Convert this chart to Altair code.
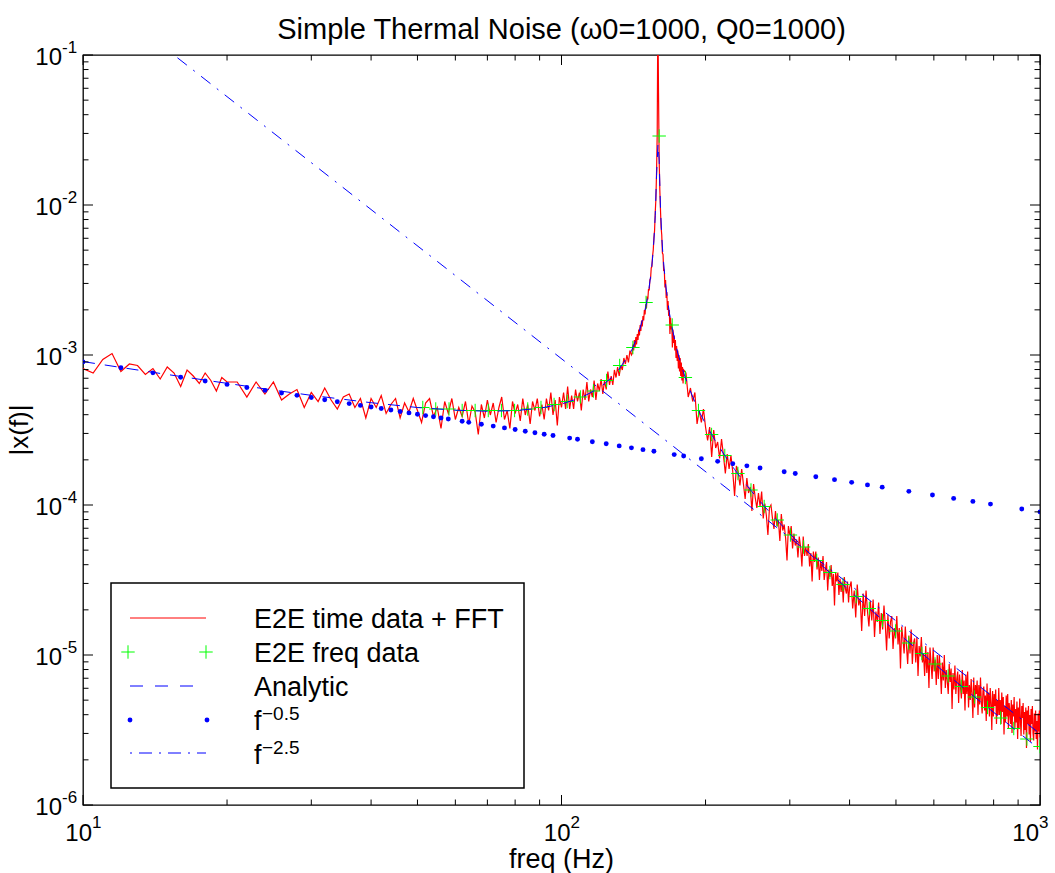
import numpy as np
import pandas as pd
import altair as alt

FONT = "Liberation Sans"
TITLE = "Simple Thermal Noise (\u03c90=1000, Q0=1000)"
X_LABEL = "freq (Hz)"
Y_LABEL = "|x(f)|"
legend_labels = ["E2E time data + FFT", "E2E freq data", "Analytic", "f", "f"]
legend_exponents = ["", "", "", "\u22120.5", "\u22122.5"]

# axis ticks
x_major = [10, 100, 1000]
x_major_exp = ["1", "2", "3"]
x_minor = [20, 30, 40, 50, 60, 70, 80, 90, 200, 300, 400, 500, 600, 700, 800, 900]
y_major = [1e-6, 1e-5, 1e-4, 1e-3, 1e-2, 1e-1]
y_major_exp = ["-6", "-5", "-4", "-3", "-2", "-1"]
y_minor = [k * 10.0 ** e for e in range(-6, -1) for k in range(2, 10)]

# ---- E2E time data + FFT (red): frequency segments (start, stop, step) and log10 |x(f)|
red_segments = [(10.0, 20.0, 0.5), (21.0, 140.0, 1.0), (140.5, 180.0, 0.5), (182.0, 400.0, 2.0), (403.0, 1000.0, 3.0)]
red_log_s1 = [-3.09, -3.12, -3.03, -2.99, -3.11, -3.06, -3.07, -3.13, -3.09, -3.16, -3.08, -3.12, -3.21, -3.10,
              -3.14, -3.19, -3.12, -3.17, -3.24, -3.15, -3.18]
red_log_s2 = [-3.18, -3.28, -3.18, -3.26, -3.18, -3.30, -3.26, -3.23, -3.35, -3.25,
              -3.31, -3.22, -3.30, -3.36, -3.28, -3.26, -3.35, -3.29, -3.42, -3.29,
              -3.35, -3.27, -3.39, -3.33, -3.29, -3.42, -3.32, -3.38, -3.29, -3.37,
              -3.45, -3.32, -3.29, -3.41, -3.35, -3.49, -3.31, -3.39, -3.29, -3.43,
              -3.35, -3.41, -3.31, -3.46, -3.34, -3.38, -3.53, -3.33, -3.42, -3.30,
              -3.40, -3.32, -3.45, -3.35, -3.28, -3.43, -3.37, -3.49, -3.31, -3.39,
              -3.33, -3.44, -3.29, -3.40, -3.33, -3.46, -3.31, -3.37, -3.29, -3.41,
              -3.33, -3.43, -3.29, -3.37, -3.25, -3.40, -3.30, -3.47, -3.28, -3.35,
              -3.25, -3.36, -3.21, -3.36, -3.27, -3.36, -3.23, -3.31, -3.25, -3.37,
              -3.23, -3.30, -3.18, -3.31, -3.23, -3.28, -3.17, -3.30, -3.19, -3.24,
              -3.16, -3.26, -3.17, -3.23, -3.11, -3.20, -3.14, -3.20, -3.10, -3.15,
              -3.08, -3.14, -3.07, -3.10, -3.02, -3.06, -3.00, -3.05, -2.97, -3.00]
red_log_s3 = [-2.99, -2.93, -2.97, -2.90, -2.95, -2.88, -2.93, -2.86, -2.90, -2.83,
              -2.87, -2.80, -2.84, -2.77, -2.81, -2.74, -2.77, -2.70, -2.73, -2.66,
              -2.69, -2.61, -2.63, -2.56, -2.57, -2.50, -2.49, -2.42, -2.41, -2.34,
              -2.30, -2.22, -2.17, -2.05, -1.96, -1.78, -1.52, -0.70, -1.25, -1.70,
              -1.90, -2.03, -2.15, -2.20, -2.32, -2.33, -2.44, -2.43, -2.55, -2.50,
              -2.62, -2.58, -2.70, -2.64, -2.74, -2.70, -2.86, -2.75, -2.83, -2.79,
              -2.95, -2.83, -2.92, -2.87, -2.97, -2.90, -3.02, -2.94, -3.04, -2.97,
              -3.09, -3.00, -3.11, -3.02, -3.14, -3.05, -3.17, -3.08, -3.19, -3.10]
red_log_s4 = [-3.12, -3.28, -3.22, -3.31, -3.25, -3.46, -3.37, -3.45, -3.36, -3.48,
              -3.57, -3.48, -3.68, -3.50, -3.62, -3.58, -3.69, -3.56, -3.67, -3.79,
              -3.66, -3.76, -3.67, -3.78, -3.94, -3.74, -3.78, -3.87, -3.76, -3.86,
              -3.96, -3.82, -3.92, -3.88, -4.04, -3.86, -3.95, -4.02, -3.92, -4.01,
              -3.91, -4.09, -3.99, -4.07, -4.20, -4.02, -4.00, -4.09, -4.16, -4.04,
              -4.14, -4.10, -4.24, -4.06, -4.17, -4.13, -4.22, -4.37, -4.14, -4.20,
              -4.14, -4.29, -4.19, -4.27, -4.23, -4.35, -4.21, -4.28, -4.41, -4.21,
              -4.34, -4.28, -4.34, -4.26, -4.41, -4.32, -4.51, -4.31, -4.38, -4.31,
              -4.43, -4.35, -4.50, -4.37, -4.44, -4.34, -4.50, -4.43, -4.38, -4.57,
              -4.43, -4.48, -4.40, -4.54, -4.46, -4.67, -4.45, -4.51, -4.45, -4.60,
              -4.49, -4.58, -4.51, -4.65, -4.48, -4.56, -4.59, -4.51, -4.65, -4.55]
red_log_s5 = [-4.51, -4.69, -4.57, -4.75, -4.53, -4.67, -4.62, -4.84, -4.59, -4.74, -4.57, -4.71, -4.81, -4.64, -4.77, -4.63, -4.88, -4.71, -4.78, -4.65,
              -4.86, -4.72, -4.83, -4.67, -4.80, -4.97, -4.73, -4.89, -4.78, -4.74, -4.96, -4.82, -4.89, -4.74, -4.93, -4.82, -5.09, -4.81, -4.89, -4.99,
              -4.81, -4.94, -5.06, -4.87, -4.99, -4.83, -5.06, -4.92, -4.89, -5.05, -4.88, -5.14, -4.94, -5.01, -4.88, -5.05, -4.99, -5.14, -4.94, -5.12,
              -4.98, -5.22, -4.95, -5.06, -5.16, -4.95, -5.11, -5.03, -5.20, -5.00, -5.16, -5.00, -5.10, -5.26, -5.05, -5.17, -5.00, -5.22, -5.10, -5.17,
              -5.26, -5.06, -5.18, -5.09, -5.36, -5.12, -5.23, -5.07, -5.26, -5.16, -5.11, -5.32, -5.13, -5.21, -5.29, -5.10, -5.26, -5.17, -5.37, -5.13,
              -5.26, -5.11, -5.35, -5.20, -5.30, -5.16, -5.26, -5.42, -5.15, -5.35, -5.20, -5.26, -5.17, -5.40, -5.20, -5.33, -5.15, -5.31, -5.39, -5.24,
              -5.21, -5.37, -5.27, -5.44, -5.19, -5.35, -5.25, -5.41, -5.22, -5.32, -5.50, -5.24, -5.41, -5.26, -5.34, -5.23, -5.46, -5.30, -5.40, -5.22,
              -5.40, -5.30, -5.46, -5.25, -5.38, -5.28, -5.53, -5.34, -5.45, -5.27, -5.41, -5.26, -5.49, -5.32, -5.38, -5.46, -5.30, -5.52, -5.33, -5.41,
              -5.28, -5.49, -5.36, -5.45, -5.31, -5.56, -5.35, -5.49, -5.29, -5.43, -5.54, -5.34, -5.42, -5.32, -5.53, -5.38, -5.50, -5.35, -5.62, -5.37,
              -5.46, -5.34, -5.53, -5.40, -5.58, -5.36, -5.46, -5.34, -5.52, -5.57, -5.39, -5.51, -5.37, -5.56, -5.44, -5.63, -5.39, -5.51, -5.37, -5.55]
red_logs = [red_log_s1, red_log_s2, red_log_s3, red_log_s4, red_log_s5]

# ---- E2E freq data (green +)
green_freq = [51.3, 54.6, 58.2, 62.0, 66.0, 70.3, 74.9, 79.8, 85.0, 90.6, 96.5, 102.8, 109.5, 116.6, 124.2, 132.3,
              141.0, 150.2, 160.0, 170.4, 181.5, 193.3, 205.9, 219.4, 233.7, 248.9, 265.2, 282.5, 300.9, 320.6,
              341.5, 363.8, 387.5, 412.8, 439.8, 468.5, 499.1, 531.6, 566.3, 603.4, 642.8, 684.7, 729.3, 776.9,
              827.5, 881.4, 938.8, 1000.0]
green_log = [-3.35, -3.36, -3.36, -3.37, -3.37, -3.37, -3.37, -3.37, -3.36, -3.35, -3.33, -3.31, -3.28, -3.24, -3.17, -3.07,
             -2.95, -2.65, -1.54, -2.80, -3.15, -3.37, -3.53, -3.67, -3.79, -3.90, -4.01, -4.10, -4.20, -4.28,
             -4.37, -4.45, -4.53, -4.61, -4.69, -4.77, -4.84, -4.92, -4.99, -5.06, -5.14, -5.21, -5.28, -5.35,
             -5.42, -5.49, -5.56, -5.61]

# ---- Analytic (blue dashed)
analytic_freq = [10, 12, 15, 20, 25, 30, 40, 50, 60, 70,
                 80, 90, 100, 110, 120, 130, 140, 145, 150, 152,
                 154, 155, 156, 157, 158, 159.1, 160, 161, 162, 163,
                 165, 168, 170, 175, 180, 185, 190, 195, 200, 210,
                 220, 230, 240, 250, 260, 280, 300, 320, 350, 400,
                 450, 500, 550, 600, 650, 700, 750, 800, 850, 900,
                 950, 1000]
analytic_log = [-3.044, -3.083, -3.130, -3.189, -3.234, -3.269, -3.318, -3.350, -3.368, -3.375,
                -3.371, -3.355, -3.327, -3.284, -3.220, -3.125, -2.973, -2.856, -2.682, -2.580,
                -2.443, -2.353, -2.235, -2.071, -1.803, -1.590, -1.700, -2.018, -2.209, -2.342,
                -2.528, -2.716, -2.810, -2.987, -3.119, -3.225, -3.313, -3.391, -3.459, -3.577,
                -3.676, -3.763, -3.841, -3.911, -3.976, -4.091, -4.191, -4.282, -4.402, -4.572,
                -4.717, -4.843, -4.955, -5.056, -5.148, -5.232, -5.310, -5.382, -5.450, -5.514,
                -5.574, -5.631]

# ---- f^-0.5 (blue dots)
dots_freq = [10, 12, 14, 16, 18, 20, 22, 24, 26, 28, 30, 32, 34, 36, 38, 40, 42, 44, 46, 48, 50, 52, 54, 56, 58,
             62, 64, 68, 72, 76, 80, 84, 88, 92, 96, 104, 108, 116, 124, 132, 140, 148, 156, 172, 180, 196, 212,
             228, 244, 260, 292, 308, 340, 372, 404, 436, 468, 532, 596, 660, 724, 788, 916, 1000]
dots_log = [-3.046, -3.085, -3.119, -3.148, -3.173, -3.196, -3.217, -3.236, -3.253, -3.269, -3.284, -3.298, -3.312,
            -3.324, -3.336, -3.347, -3.357, -3.367, -3.377, -3.386, -3.395, -3.404, -3.412, -3.420, -3.427,
            -3.442, -3.449, -3.462, -3.474, -3.486, -3.497, -3.508, -3.518, -3.528, -3.537, -3.554, -3.562,
            -3.578, -3.592, -3.606, -3.619, -3.631, -3.642, -3.664, -3.673, -3.692, -3.709, -3.725, -3.739,
            -3.753, -3.778, -3.790, -3.812, -3.831, -3.849, -3.866, -3.881, -3.909, -3.933, -3.956, -3.976,
            -3.994, -4.027, -4.046]

# ---- f^-2.5 (blue dash-dot), end points
slope_freq = [10, 1000]
slope_log = [-0.525, -5.525]

# ---------------- build tables ----------------
rf, rv = [], []
for (a, b, s), vals in zip(red_segments, red_logs):
    fr = np.arange(a, b + s / 2, s)
    n = min(len(fr), len(vals))
    rf.extend(fr[:n].tolist())
    rv.extend(vals[:n])
red_df = pd.DataFrame({"f": rf, "a": 10.0 ** np.array(rv)})
green_df = pd.DataFrame({"f": green_freq, "a": 10.0 ** np.array(green_log)})
analytic_df = pd.DataFrame({"f": analytic_freq, "a": 10.0 ** np.array(analytic_log)})
dots_df = pd.DataFrame({"f": dots_freq, "a": 10.0 ** np.array(dots_log)})
slope_df = pd.DataFrame({"f": slope_freq, "a": 10.0 ** np.array(slope_log)})

W, H = 957, 750
xs = alt.Scale(type="log", domain=[10, 1000], nice=False)
ys = alt.Scale(type="log", domain=[1e-6, 1e-1], nice=False)


def X(field):
    return alt.X(f"{field}:Q", scale=xs, axis=None)


def Y(field):
    return alt.Y(f"{field}:Q", scale=ys, axis=None)


BLUE = "#0000ff"
RED = "#ff0000"
GREEN = "#00ff00"
PLUS = "M-1,0L1,0M0,-1L0,1"

layers = []
layers.append(alt.Chart(red_df).mark_line(color=RED, strokeWidth=1.2, clip=True).encode(x=X("f"), y=Y("a")))
layers.append(alt.Chart(green_df).mark_point(shape=PLUS, size=180, color=GREEN, strokeWidth=1, filled=False,
                                             opacity=1, clip=True).encode(x=X("f"), y=Y("a")))
layers.append(alt.Chart(analytic_df).mark_line(color=BLUE, strokeWidth=1, strokeDash=[12, 10], clip=True)
              .encode(x=X("f"), y=Y("a")))
layers.append(alt.Chart(dots_df).mark_circle(color=BLUE, size=24, opacity=1, clip=True).encode(x=X("f"), y=Y("a")))
layers.append(alt.Chart(slope_df).mark_line(color=BLUE, strokeWidth=1, strokeDash=[12, 8, 2, 8], clip=True)
              .encode(x=X("f"), y=Y("a")))

# ticks (inside, on all four sides)
xmaj_df = pd.DataFrame({"v": x_major, "base": ["10"] * len(x_major), "exp": x_major_exp})
xmin_df = pd.DataFrame({"v": x_minor})
ymaj_df = pd.DataFrame({"v": y_major, "base": ["10"] * len(y_major), "exp": y_major_exp})
ymin_df = pd.DataFrame({"v": y_minor})
for df, ln in [(xmaj_df, 10), (xmin_df, 5.5)]:
    layers.append(alt.Chart(df).mark_rule(color="black", strokeWidth=1)
                  .encode(x=X("v"), y=alt.value(H), y2=alt.value(H - ln)))
    layers.append(alt.Chart(df).mark_rule(color="black", strokeWidth=1)
                  .encode(x=X("v"), y=alt.value(0), y2=alt.value(ln)))
for df, ln in [(ymaj_df, 10), (ymin_df, 5.5)]:
    layers.append(alt.Chart(df).mark_rule(color="black", strokeWidth=1)
                  .encode(y=Y("v"), x=alt.value(0), x2=alt.value(ln)))
    layers.append(alt.Chart(df).mark_rule(color="black", strokeWidth=1)
                  .encode(y=Y("v"), x=alt.value(W), x2=alt.value(W - ln)))

# tick labels
TF, EF = 24, 17
xlab_inner = xmaj_df.iloc[:-1]
xlab_last = xmaj_df.iloc[-1:]
for df, off in [(xlab_inner, 9), (xlab_last, -1)]:
    layers.append(alt.Chart(df).mark_text(align="right", baseline="alphabetic", dx=off, font=FONT, fontSize=TF)
                  .encode(x=X("v"), y=alt.value(H + 36), text="base:N"))
    layers.append(alt.Chart(df).mark_text(align="left", baseline="alphabetic", dx=off, font=FONT, fontSize=EF)
                  .encode(x=X("v"), y=alt.value(H + 23), text="exp:N"))
layers.append(alt.Chart(ymaj_df).mark_text(align="right", baseline="alphabetic", dx=-21, dy=10, font=FONT, fontSize=TF)
              .encode(y=Y("v"), x=alt.value(0), text="base:N"))
layers.append(alt.Chart(ymaj_df).mark_text(align="left", baseline="alphabetic", dx=-21, dy=-2, font=FONT, fontSize=EF)
              .encode(y=Y("v"), x=alt.value(0), text="exp:N"))

one = pd.DataFrame({"k": [0]})
# title and axis titles
layers.append(alt.Chart(one).mark_text(align="center", baseline="middle", font=FONT, fontSize=29)
              .encode(x=alt.value(W / 2), y=alt.value(-25), text=alt.value(TITLE)))
layers.append(alt.Chart(one).mark_text(align="center", baseline="middle", font=FONT, fontSize=27)
              .encode(x=alt.value(W / 2), y=alt.value(H + 55), text=alt.value(X_LABEL)))
layers.append(alt.Chart(one).mark_text(align="center", baseline="middle", font=FONT, fontSize=26, angle=270)
              .encode(x=alt.value(-63), y=alt.value(375), text=alt.value(Y_LABEL)))

# legend
LX1, LX2, LY1, LY2 = 28, 441, 528, 733
layers.append(alt.Chart(one).mark_rect(fill="white", stroke="black", strokeWidth=1.5)
              .encode(x=alt.value(LX1), x2=alt.value(LX2), y=alt.value(LY1), y2=alt.value(LY2)))
sym_y = [563, 597, 631, 665, 698]
txt_y = [573, 607, 641, 675, 709]
layers.append(alt.Chart(one).mark_rule(color=RED, strokeWidth=1)
              .encode(x=alt.value(47), x2=alt.value(123), y=alt.value(sym_y[0])))
for gx in (45, 123):
    layers.append(alt.Chart(one).mark_point(shape=PLUS, size=180, color=GREEN, strokeWidth=1, filled=False, opacity=1)
                  .encode(x=alt.value(gx), y=alt.value(sym_y[1])))
layers.append(alt.Chart(one).mark_rule(color=BLUE, strokeWidth=1, strokeDash=[13, 12])
              .encode(x=alt.value(47), x2=alt.value(111), y=alt.value(sym_y[2])))
for dx_ in (47, 124):
    layers.append(alt.Chart(one).mark_circle(color=BLUE, size=24, opacity=1)
                  .encode(x=alt.value(dx_), y=alt.value(sym_y[3])))
layers.append(alt.Chart(one).mark_rule(color=BLUE, strokeWidth=1, strokeDash=[2, 7, 13, 7])
              .encode(x=alt.value(47), x2=alt.value(123), y=alt.value(sym_y[4])))
for i, (lab, ex) in enumerate(zip(legend_labels, legend_exponents)):
    layers.append(alt.Chart(one).mark_text(align="left", baseline="alphabetic", font=FONT, fontSize=27)
                  .encode(x=alt.value(171), y=alt.value(txt_y[i]), text=alt.value(lab)))
    if ex:
        layers.append(alt.Chart(one).mark_text(align="left", baseline="alphabetic", font=FONT, fontSize=19)
                      .encode(x=alt.value(179), y=alt.value(txt_y[i] - 10), text=alt.value(ex)))

chart = alt.layer(*layers).properties(
    width=W, height=H,
    padding={"left": 83, "top": 55, "right": 15, "bottom": 68},
    autosize=alt.AutoSizeParams(type="none"),
    background="white",
).configure_view(stroke="black", strokeWidth=1.3)

chart.save("out.html", embed_options={"renderer": "svg", "actions": False})
